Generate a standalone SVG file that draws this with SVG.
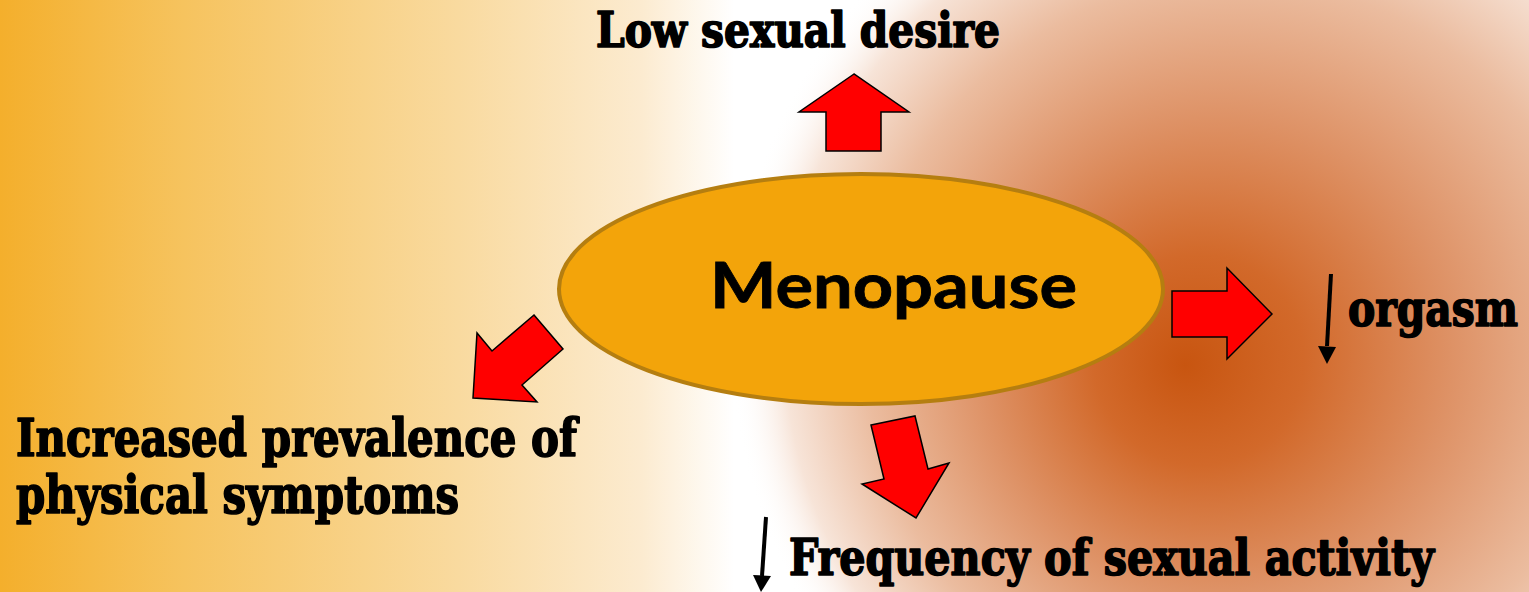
<svg xmlns="http://www.w3.org/2000/svg" width="1529" height="592" viewBox="0 0 1529 592">
<defs>
<linearGradient id="bgL" x1="0" y1="0" x2="1529" y2="0" gradientUnits="userSpaceOnUse">
<stop offset="0" stop-color="#F4AF2C"/>
<stop offset="0.12" stop-color="#F6C35E"/>
<stop offset="0.3" stop-color="#F9DA9F"/>
<stop offset="0.42" stop-color="#FCEBD0"/>
<stop offset="0.48" stop-color="#FFFFFF"/>
<stop offset="1" stop-color="#FFFFFF"/>
</linearGradient>
<radialGradient id="bgR" cx="1255" cy="340" r="525" fx="1185" fy="365" gradientUnits="userSpaceOnUse">
<stop offset="0" stop-color="#C85510"/>
<stop offset="0.2" stop-color="#D2692A"/>
<stop offset="0.45" stop-color="#DE9266"/>
<stop offset="0.7" stop-color="#EBBC9F"/>
<stop offset="0.88" stop-color="#F7E4D8"/>
<stop offset="1" stop-color="#FFFFFF" stop-opacity="0"/>
</radialGradient>
<style>
.lbl{font-family:"DejaVu Serif","Liberation Serif",serif;font-weight:bold;font-stretch:condensed;fill:#000;stroke:#000;stroke-width:1.6;stroke-linejoin:round}
.red{fill:#FF0000;stroke:#000;stroke-width:1.5;stroke-linejoin:miter}
.blk{stroke:#000;stroke-width:4;fill:none}
.hd{fill:#000}
</style>
</defs>
<rect x="0" y="0" width="1529" height="592" fill="url(#bgL)"/>
<rect x="0" y="0" width="1529" height="592" fill="url(#bgR)"/>

<g id="menopause">
<ellipse cx="861" cy="289" rx="302" ry="115" fill="#F3A40A" stroke="#B57E10" stroke-width="4"/>
<text x="710" y="308" font-family="Lato,'DejaVu Sans',sans-serif" font-weight="bold" font-size="63" textLength="367" lengthAdjust="spacingAndGlyphs" stroke="#000" stroke-width="0.8">Menopause</text>
</g>

<g id="connectors">
<polygon class="red" points="854,74 799,112 826,112 826,151 881,151 881,112 909,112"/>
<polygon class="red" points="1272,314 1227,268 1227,291 1172,291 1172,337 1227,337 1227,359"/>
<polygon class="red" points="534,315 563,349 522,385 537,402 473,398 477,333 492,351"/>
<polygon class="red" points="871,425 915,416 928,469 949,463 916,518 862,484 884,479"/>
<line class="blk" x1="1331" y1="274" x2="1327" y2="346"/>
<polygon class="hd" points="1318,346 1336,347 1327,364"/>
<line class="blk" x1="766" y1="517" x2="762" y2="576"/>
<polygon class="hd" points="753,575 771,576 761,592"/>
</g>

<g id="low-desire">
<text class="lbl" x="596" y="47" font-size="48" textLength="404" lengthAdjust="spacingAndGlyphs">Low sexual desire</text>
</g>
<g id="orgasm">
<text class="lbl" x="1348" y="326" font-size="50" textLength="170" lengthAdjust="spacingAndGlyphs">orgasm</text>
</g>
<g id="frequency">
<text class="lbl" x="789" y="575" font-size="50" textLength="645" lengthAdjust="spacingAndGlyphs">Frequency of sexual activity</text>
</g>
<g id="physical">
<text class="lbl" x="16" y="456" font-size="53" textLength="561" lengthAdjust="spacingAndGlyphs">Increased prevalence of</text>
<text class="lbl" x="16" y="513" font-size="53" textLength="443" lengthAdjust="spacingAndGlyphs">physical symptoms</text>
</g>
</svg>
